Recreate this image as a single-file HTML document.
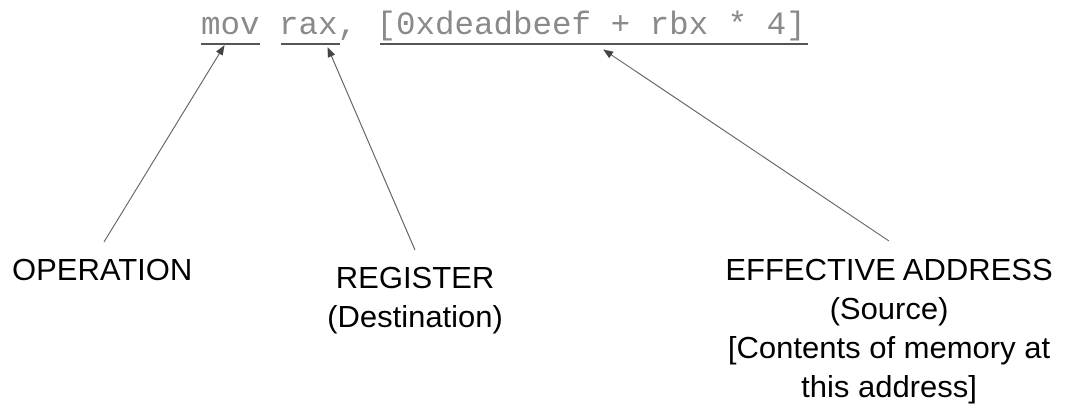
<!DOCTYPE html>
<html><head><style>
body{margin:0;width:1065px;height:417px;background:#fff;position:relative;overflow:hidden;font-family:"Liberation Sans",Arial,sans-serif}
.code{position:absolute;left:201px;top:6px;font-family:"Liberation Mono",monospace;font-size:32.5px;color:#8a8a8a;white-space:pre;line-height:40px}
.u{position:absolute;height:1.5px;background:#555;top:43px}
.lbl{position:absolute;font-size:31px;color:#000;text-align:center;line-height:39px;white-space:nowrap}
</style></head><body>
<div class="code">mov rax, [0xdeadbeef + rbx * 4]</div>
<div class="u" style="left:201px;width:59px"></div>
<div class="u" style="left:281px;width:59px"></div>
<div class="u" style="left:380px;width:428px"></div>
<svg width="1065" height="417" style="position:absolute;left:0;top:0">
<defs><marker id="a" markerWidth="10" markerHeight="8" refX="9" refY="4" orient="auto" markerUnits="userSpaceOnUse"><path d="M0,0L10,4L0,8z" fill="#444"/></marker></defs>
<g stroke="#555" stroke-width="1">
<line x1="104" y1="242" x2="224" y2="46" marker-end="url(#a)"/>
<line x1="415" y1="250" x2="328" y2="48" marker-end="url(#a)"/>
<line x1="889" y1="241" x2="604" y2="50" marker-end="url(#a)"/>
</g></svg>
<div class="lbl" style="left:12px;top:250px">OPERATION</div>
<div class="lbl" style="left:265px;top:258px;width:300px">REGISTER<br>(Destination)</div>
<div class="lbl" style="left:639px;top:250px;width:500px">EFFECTIVE ADDRESS<br>(Source)<br>[Contents of memory at<br>this address]</div>
</body></html>
